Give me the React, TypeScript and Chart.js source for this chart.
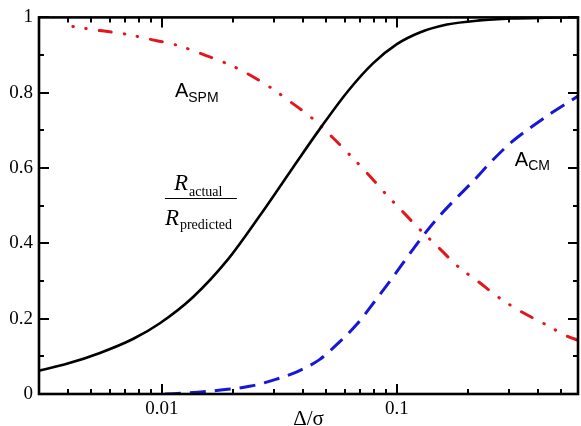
import React, { useEffect, useRef } from 'react';
import { Chart, registerables } from 'chart.js';

Chart.register(...registerables);

// ---- Data ----
const X_MIN = 0.003;
const X_MAX = 0.59;

const xLabelTicks = [0.01, 0.1];
const xMinorTicks = [
  0.004, 0.005, 0.006, 0.007, 0.008, 0.009,
  0.02, 0.03, 0.04, 0.05, 0.06, 0.07, 0.08, 0.09,
  0.2, 0.3, 0.4, 0.5,
];
const yMajorTicks = [0, 0.2, 0.4, 0.6, 0.8, 1];
const yMinorTicks = [0.1, 0.3, 0.5, 0.7, 0.9];

// R_actual / R_predicted (solid black)
const ratioX = [0.003, 0.00394, 0.00545, 0.00753, 0.00981, 0.01355, 0.01891, 0.02614, 0.03609, 0.04703, 0.06188, 0.07913, 0.1, 0.1252, 0.1634, 0.2247, 0.3088, 0.4266, 0.59];
const ratioY = [0.062, 0.08, 0.109, 0.146, 0.188, 0.257, 0.354, 0.474, 0.601, 0.704, 0.804, 0.878, 0.929, 0.960, 0.981, 0.992, 0.997, 0.999, 1.0];

// A_SPM (red dash-dot-dot)
const spmX = [0.00418, 0.00545, 0.00696, 0.00889, 0.01147, 0.01451, 0.02106, 0.02881, 0.03574, 0.04348, 0.0529, 0.0624, 0.0751, 0.088, 0.106, 0.1252, 0.1521, 0.1817, 0.2247, 0.2703, 0.3419, 0.4198, 0.5334, 0.59];
const spmY = [0.976, 0.965, 0.956, 0.942, 0.927, 0.905, 0.864, 0.815, 0.773, 0.733, 0.683, 0.638, 0.585, 0.537, 0.484, 0.437, 0.386, 0.339, 0.296, 0.257, 0.217, 0.188, 0.153, 0.143];

// A_CM (blue dashed)
const cmX = [0.0103, 0.01316, 0.01818, 0.02391, 0.03026, 0.03754, 0.04701, 0.05719, 0.06756, 0.07983, 0.0943, 0.1103, 0.1278, 0.148, 0.1765, 0.2096, 0.2512, 0.3026, 0.3681, 0.4544, 0.59];
const cmY = [0.0, 0.003, 0.011, 0.021, 0.038, 0.059, 0.092, 0.139, 0.185, 0.243, 0.303, 0.362, 0.416, 0.465, 0.516, 0.563, 0.616, 0.665, 0.706, 0.746, 0.791];

const toPoints = (xs: number[], ys: number[]) => xs.map((x, i) => ({ x, y: ys[i] }));

const SERIF = '"Liberation Serif", "DejaVu Serif", serif';
const SANS = '"Liberation Sans", Arial, sans-serif';

const framePlugin = {
  id: 'frameTicks',
  afterDatasetsDraw(chart: any) {
    const { ctx, chartArea: a, scales } = chart;
    const xs = scales.x;
    const ys = scales.y;
    ctx.save();
    ctx.strokeStyle = '#000';
    ctx.lineCap = 'butt';
    ctx.lineWidth = 2;
    const vTick = (v: number, len: number) => {
      const px = Math.round(xs.getPixelForValue(v));
      ctx.beginPath();
      ctx.moveTo(px, a.bottom);
      ctx.lineTo(px, a.bottom - len);
      ctx.moveTo(px, a.top);
      ctx.lineTo(px, a.top + len);
      ctx.stroke();
    };
    const hTick = (v: number, len: number) => {
      const py = Math.round(ys.getPixelForValue(v));
      ctx.beginPath();
      ctx.moveTo(a.left, py);
      ctx.lineTo(a.left + len, py);
      ctx.moveTo(a.right, py);
      ctx.lineTo(a.right - len, py);
      ctx.stroke();
    };
    xMinorTicks.forEach((v) => vTick(v, 5));
    xLabelTicks.forEach((v) => vTick(v, 10));
    yMinorTicks.forEach((v) => hTick(v, 5));
    yMajorTicks.forEach((v) => hTick(v, 10));
    ctx.lineWidth = 2.6;
    ctx.strokeRect(a.left, a.top, a.right - a.left, a.bottom - a.top);
    ctx.restore();
  },
};

const annotationPlugin = {
  id: 'curveLabels',
  afterDatasetsDraw(chart: any) {
    const { ctx, scales } = chart;
    const xs = scales.x;
    const ys = scales.y;
    ctx.save();
    ctx.fillStyle = '#000';
    ctx.textAlign = 'left';
    ctx.textBaseline = 'alphabetic';

    const subLabel = (main: string, sub: string, px: number, py: number) => {
      ctx.font = `20px ${SANS}`;
      ctx.fillText(main, px, py);
      const w = ctx.measureText(main).width;
      ctx.font = `14px ${SANS}`;
      ctx.fillText(sub, px + w, py + 4.5);
    };
    subLabel('A', 'SPM', xs.getPixelForValue(0.01136), ys.getPixelForValue(0.788));
    subLabel('A', 'CM', xs.getPixelForValue(0.3177), ys.getPixelForValue(0.606));

    // fraction R_actual / R_predicted
    const cx = xs.getPixelForValue(0.01466);
    const ly = ys.getPixelForValue(0.519);
    const left = cx - 36;
    const rFont = `italic 23px ${SERIF}`;
    const sFont = `14px ${SERIF}`;
    const drawR = (sub: string, x0: number, base: number, drop: number) => {
      ctx.font = rFont;
      ctx.fillText('R', x0, base);
      const wr = ctx.measureText('R').width;
      ctx.font = sFont;
      ctx.fillText(sub, x0 + wr + 1, base + drop);
    };
    drawR('actual', left + 9, ly - 9, 6);
    drawR('predicted', left, ly + 26, 4);
    ctx.strokeStyle = '#000';
    ctx.lineWidth = 1.1;
    ctx.beginPath();
    ctx.moveTo(left, ly);
    ctx.lineTo(left + 72, ly);
    ctx.stroke();
    ctx.restore();
  },
};

export default function App() {
  const ref = useRef<HTMLCanvasElement | null>(null);

  useEffect(() => {
    if (!ref.current) return;
    const chart = new Chart(ref.current, {
      type: 'line',
      data: {
        datasets: [
          {
            label: 'R_actual/R_predicted',
            data: toPoints(ratioX, ratioY),
            borderColor: '#000000',
            borderWidth: 2.6,
            pointRadius: 0,
            cubicInterpolationMode: 'monotone',
            fill: false,
          },
          {
            label: 'A_SPM',
            data: toPoints(spmX, spmY),
            borderColor: '#e3161b',
            borderWidth: 3,
            borderDash: [12, 13.25, 0.5, 12.5, 0.5, 13.25],
            borderDashOffset: 25.25,
            borderCapStyle: 'round',
            pointRadius: 0,
            cubicInterpolationMode: 'monotone',
            fill: false,
          },
          {
            label: 'A_CM',
            data: toPoints(cmX, cmY),
            borderColor: '#1717d8',
            borderWidth: 3,
            borderDash: [16, 9],
            pointRadius: 0,
            cubicInterpolationMode: 'monotone',
            fill: false,
          },
        ],
      },
      options: {
        responsive: false,
        animation: false,
        layout: { padding: { top: 16, right: 3, left: 0, bottom: 0 } },
        plugins: {
          legend: { display: false },
          tooltip: { enabled: false },
        },
        scales: {
          x: {
            type: 'logarithmic',
            min: X_MIN,
            max: X_MAX,
            grid: { display: false, drawTicks: false, tickLength: 0 },
            border: { display: false },
            afterBuildTicks: (scale: any) => {
              scale.ticks = xLabelTicks.map((v) => ({ value: v }));
            },
            afterFit: (scale: any) => {
              scale.height = 32;
            },
            ticks: {
              autoSkip: false,
              maxRotation: 0,
              padding: 4,
              color: '#000',
              font: { family: SERIF, size: 19 },
              callback: (v: any) => String(Number(Number(v).toPrecision(3))),
            },
            title: {
              display: true,
              text: 'Δ/σ',
              color: '#000',
              font: { family: SERIF, size: 21, lineHeight: 1 },
              padding: { top: 0, bottom: -4 },
            },
          },
          y: {
            type: 'linear',
            min: 0,
            max: 1,
            grid: { display: false, drawTicks: false, tickLength: 0 },
            border: { display: false },
            afterFit: (scale: any) => {
              scale.width = 39;
            },
            afterBuildTicks: (scale: any) => {
              scale.ticks = yMajorTicks.map((v) => ({ value: v }));
            },
            ticks: {
              padding: 6,
              color: '#000',
              font: { family: SERIF, size: 19 },
              callback: (v: any) => String(Number(Number(v).toFixed(1))),
            },
          },
        },
      },
      plugins: [framePlugin, annotationPlugin],
    } as any);
    return () => chart.destroy();
  }, []);

  return (
    <div style={{ position: 'fixed', left: 0, top: 0, width: 581, height: 426, background: '#fff' }}>
      <canvas ref={ref} width={581} height={426} style={{ display: 'block' }} />
    </div>
  );
}
